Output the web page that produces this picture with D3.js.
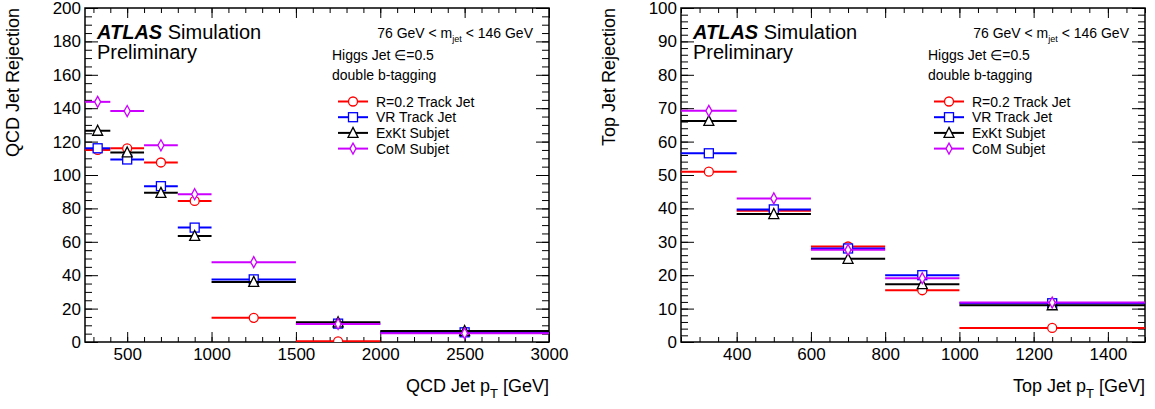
<!DOCTYPE html>
<html>
<head>
<meta charset="utf-8">
<script src="https://cdn.jsdelivr.net/npm/d3@7"></script>
<style>
  body { margin: 0; background: #fff; }
  text { font-family: "Liberation Sans", Arial, sans-serif; fill: #000; }
</style>
</head>
<body>
<div id="chart"></div>
<script>
// bin edges and values
var qcdEdges = [250, 400, 600, 800, 1000, 1500, 2000, 3000];
var qcdR02 = [115, 116, 107.5, 84.5, 14.5, 0.4, null];
var qcdVR = [116, 109.3, 93.3, 68.5, 37.5, 11, 5.8];
var qcdExKt = [126.5, 113.5, 89.3, 63.5, 36, 11.8, 6.6];
var qcdCoM = [143.8, 138.3, 117.8, 88.5, 47.8, 10.8, 5.2];

var topEdges = [250, 400, 600, 800, 1000, 1500];
var topR02 = [51, 39.3, 28.6, 15.5, 4.2];
var topVR = [56.5, 39.7, 28, 20, 11.6];
var topExKt = [66.2, 38.3, 24.9, 17.3, 11];
var topCoM = [69.2, 43, 27.6, 19.1, 11.8];

var seriesNames = ["R=0.2 Track Jet", "VR Track Jet", "ExKt Subjet", "CoM Subjet"];
var seriesColors = ["#ff0000", "#0000ff", "#000000", "#cc00ff"];
var seriesSymbols = ["circle", "square", "triangle", "diamond"];

var W = 1155, H = 409;
var svg = d3.select("#chart").append("svg")
    .attr("width", W)
    .attr("height", H);

function marker(g, type, color) {
    if (type == "circle") {
        g.append("circle").attr("r", 4.5);
    } else if (type == "square") {
        g.append("rect").attr("x", -4.5).attr("y", -4.5).attr("width", 9).attr("height", 9);
    } else if (type == "triangle") {
        g.append("path").attr("d", "M0,-5.5L5,4.5L-5,4.5Z");
    } else {
        g.append("path").attr("d", "M0,-5.5L3,0L0,5.5L-3,0Z");
    }
    g.selectAll("*")
        .attr("fill", "#fff")
        .attr("stroke", color)
        .attr("stroke-width", 1.3);
}

function panel(opts) {
    var x = d3.scaleLinear().domain(opts.xDomain).range([opts.left, opts.right]);
    var y = d3.scaleLinear().domain(opts.yDomain).range([342, 8]);
    var g = svg.append("g");

    // frame
    g.append("rect")
        .attr("x", opts.left).attr("y", 8)
        .attr("width", opts.right - opts.left).attr("height", 334)
        .attr("fill", "none").attr("stroke", "#000").attr("stroke-width", 1.5);

    // ticks inside the frame, all four sides
    var xMinor = d3.range(opts.xMinorStart, opts.xDomain[1] + 1, opts.xMinorStep);
    var yMinor = d3.range(opts.yDomain[0], opts.yDomain[1] + 0.001, opts.yMinorStep);
    var axes = [
        [d3.axisBottom(x).tickValues(opts.xMajor).tickSize(-10).tickPadding(6).tickFormat(d3.format("d")), "translate(0,342)"],
        [d3.axisBottom(x).tickValues(xMinor).tickSize(-5).tickFormat(""), "translate(0,342)"],
        [d3.axisTop(x).tickValues(opts.xMajor).tickSize(-10).tickFormat(""), "translate(0,8)"],
        [d3.axisTop(x).tickValues(xMinor).tickSize(-5).tickFormat(""), "translate(0,8)"],
        [d3.axisLeft(y).tickValues(opts.yMajor).tickSize(-13).tickPadding(4).tickFormat(d3.format("d")), "translate(" + opts.left + ",0)"],
        [d3.axisLeft(y).tickValues(yMinor).tickSize(-7).tickFormat(""), "translate(" + opts.left + ",0)"],
        [d3.axisRight(y).tickValues(opts.yMajor).tickSize(-13).tickFormat(""), "translate(" + opts.right + ",0)"],
        [d3.axisRight(y).tickValues(yMinor).tickSize(-7).tickFormat(""), "translate(" + opts.right + ",0)"]
    ];
    axes.forEach(function (a) {
        var ax = g.append("g").attr("transform", a[1]).call(a[0]);
        ax.select(".domain").remove();
        ax.selectAll("line").attr("stroke", "#000").attr("stroke-width", 1);
        ax.selectAll("text").style("font-size", "17px").style("font-family", "Liberation Sans, Arial, sans-serif");
    });

    // data: horizontal bin lines and markers
    var clipId = "clip" + opts.left;
    svg.append("clipPath").attr("id", clipId)
        .append("rect").attr("x", opts.left).attr("y", 8)
        .attr("width", opts.right - opts.left).attr("height", 334);
    var dg = svg.append("g").attr("clip-path", "url(#" + clipId + ")");
    opts.series.forEach(function (vals, si) {
        var col = seriesColors[si];
        vals.forEach(function (v, i) {
            if (v === null) return;
            var x0 = opts.edges[i], x1 = opts.edges[i + 1];
            dg.append("line")
                .attr("x1", x(x0)).attr("x2", x(x1))
                .attr("y1", y(v)).attr("y2", y(v))
                .attr("stroke", col).attr("stroke-width", 2);
            var m = dg.append("g")
                .attr("transform", "translate(" + x((x0 + x1) / 2) + "," + y(v) + ")");
            marker(m, seriesSymbols[si], col);
        });
    });

    // labels
    var tg = svg.append("g");
    tg.append("text")
        .attr("transform", "translate(" + (opts.left - 66) + ",8) rotate(-90)")
        .attr("text-anchor", "end")
        .style("font-size", "18px")
        .text(opts.yTitle);
    var xt = tg.append("text")
        .attr("x", opts.right).attr("y", 392)
        .attr("text-anchor", "end")
        .style("font-size", "18px");
    xt.append("tspan").text(opts.xTitle + " p");
    xt.append("tspan").attr("dy", 6).style("font-size", "13px").text("T");
    xt.append("tspan").attr("dy", -6).text(" [GeV]");

    var atlas = tg.append("text")
        .attr("x", opts.left + 12).attr("y", 39)
        .style("font-size", "20px");
    atlas.append("tspan").style("font-weight", "bold").style("font-style", "italic").text("ATLAS");
    atlas.append("tspan").text(" Simulation");
    tg.append("text")
        .attr("x", opts.left + 12).attr("y", 59)
        .style("font-size", "20px")
        .text("Preliminary");

    var mj = tg.append("text")
        .attr("x", opts.right - 16).attr("y", 38)
        .attr("text-anchor", "end")
        .style("font-size", "14px");
    mj.append("tspan").text("76 GeV < m");
    mj.append("tspan").attr("dy", 4).style("font-size", "9px").text("jet");
    mj.append("tspan").attr("dy", -4).text(" < 146 GeV");
    tg.append("text")
        .attr("x", opts.left + 247).attr("y", 60)
        .style("font-size", "14px")
        .text("Higgs Jet \u2208=0.5");
    tg.append("text")
        .attr("x", opts.left + 247).attr("y", 80)
        .style("font-size", "14px")
        .text("double b-tagging");

    // legend
    seriesNames.forEach(function (name, si) {
        var ly = 101.5 + si * 15.7;
        var lx = opts.left + 253;
        tg.append("line")
            .attr("x1", lx).attr("x2", lx + 30)
            .attr("y1", ly).attr("y2", ly)
            .attr("stroke", seriesColors[si]).attr("stroke-width", 2);
        var m = tg.append("g").attr("transform", "translate(" + (lx + 15) + "," + ly + ")");
        marker(m, seriesSymbols[si], seriesColors[si]);
        tg.append("text")
            .attr("x", lx + 38).attr("y", ly + 5)
            .style("font-size", "14px")
            .text(name);
    });
}

panel({
    left: 85, right: 549,
    xDomain: [250, 3000], yDomain: [0, 200],
    xMajor: [500, 1000, 1500, 2000, 2500, 3000], xMinorStart: 300, xMinorStep: 100,
    yMajor: d3.range(0, 201, 20), yMinorStep: 5,
    edges: qcdEdges,
    series: [qcdR02, qcdVR, qcdExKt, qcdCoM],
    yTitle: "QCD Jet Rejection", xTitle: "QCD Jet"
});

panel({
    left: 681, right: 1145,
    xDomain: [250, 1500], yDomain: [0, 100],
    xMajor: [400, 600, 800, 1000, 1200, 1400], xMinorStart: 250, xMinorStep: 50,
    yMajor: d3.range(0, 101, 10), yMinorStep: 2,
    edges: topEdges,
    series: [topR02, topVR, topExKt, topCoM],
    yTitle: "Top Jet Rejection", xTitle: "Top Jet"
});
</script>
</body>
</html>
